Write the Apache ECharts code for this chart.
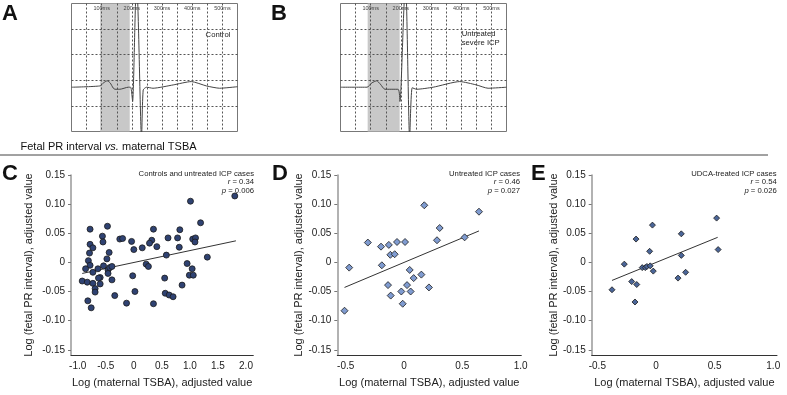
<!DOCTYPE html>
<html>
<head>
<meta charset="utf-8">
<script src="https://cdn.jsdelivr.net/npm/echarts@6/dist/echarts.min.js"></script>
<style>
  html, body { margin: 0; padding: 0; background: #fff; }
  #chart { width: 787px; height: 395px; }
</style>
</head>
<body>
<div id="chart"></div>
<script>
// ECG traces (time in ms, amplitude in grid squares from the bottom edge)
var ecgTickLabels = [100, 200, 300, 400, 500];
var controlTime = [0, 94, 106, 118, 128, 138, 144, 160, 188, 196, 202.5, 214, 217.5, 232, 237.5, 248.5, 270, 337, 397, 447, 491, 550];
var controlValue = [1.73, 1.78, 1.9, 1.98, 1.9, 1.7, 1.65, 1.65, 1.73, 1.73, 1.17, 5.4, 5.4, -0.3, 1.62, 1.73, 1.69, 1.82, 1.95, 1.78, 1.69, 1.75];
var icpTime = [0, 88, 104, 120, 132, 147, 191, 197, 213.5, 217, 229, 237.5, 252, 307, 395, 450, 489, 550];
var icpValue = [1.73, 1.73, 1.9, 1.98, 1.85, 1.65, 1.65, 1.17, 5.4, 5.4, -0.3, 1.71, 1.65, 1.73, 1.95, 1.82, 1.69, 1.73];
var controlShade = [95, 193];
var icpShade = [90, 196];

// Scatter panels
var xTicksWide = [-1.0, -0.5, 0, 0.5, 1.0, 1.5, 2.0];
var xTicksNarrow = [-0.5, 0, 0.5, 1.0];
var yTicks = [-0.15, -0.10, -0.05, 0, 0.05, 0.10, 0.15];

var allX = [1.80, 1.01, 1.19, -0.78, -0.47, -0.56, -0.55, -0.78, -0.73, -0.25, -0.20, -0.04, 0.0, 0.15, 0.35, 0.32, 0.28, 0.41, 0.58, 0.61, 0.82, 0.81, 0.78, 1.05, 1.10, 1.09, 1.31, -0.79, -0.44, -0.48, -0.81, -0.78, -0.86, -0.92, -0.83, -0.82, -0.76, -0.73, -0.73, -0.69, -0.69, -0.64, -0.60, -0.63, -0.60, -0.54, -0.46, -0.46, -0.43, -0.39, -0.39, -0.34, -0.13, -0.02, 0.02, 0.22, 0.26, 0.35, 0.55, 0.56, 0.63, 0.70, 0.86, 0.95, 1.04, 0.99, 1.06];
var allY = [0.114, 0.105, 0.068, 0.057, 0.062, 0.045, 0.035, 0.031, 0.025, 0.040, 0.041, 0.036, 0.022, 0.025, 0.057, 0.038, 0.033, 0.027, 0.0125, 0.042, 0.056, 0.026, 0.042, 0.040, 0.042, 0.035, 0.009, 0.016, 0.017, 0.006, 0.003, -0.005, -0.011, -0.032, -0.034, -0.066, -0.078, -0.017, -0.036, -0.045, -0.051, -0.011, -0.026, -0.027, -0.037, -0.006, -0.013, -0.019, -0.009, -0.007, -0.030, -0.057, -0.070, -0.023, -0.050, -0.003, -0.007, -0.071, -0.027, -0.053, -0.056, -0.059, -0.039, -0.002, -0.011, -0.022, -0.022];
var allFitX = [-0.92, 1.82];
var allFitY = [-0.019, 0.037];

var untreatedX = [0.174, 0.643, 0.306, 0.283, 0.52, -0.31, -0.197, -0.13, -0.06, 0.009, -0.117, -0.08, -0.47, -0.51, -0.19, 0.049, 0.083, 0.149, 0.214, -0.137, -0.114, -0.023, 0.026, 0.057, -0.011];
var untreatedY = [0.098, 0.087, 0.059, 0.038, 0.043, 0.034, 0.027, 0.030, 0.035, 0.035, 0.013, 0.014, -0.009, -0.083, -0.005, -0.013, -0.027, -0.021, -0.043, -0.039, -0.057, -0.050, -0.039, -0.050, -0.071];
var untreatedFitX = [-0.51, 0.643];
var untreatedFitY = [-0.043, 0.054];

var udcaX = [0.517, -0.03, -0.17, 0.216, -0.054, 0.53, 0.216, -0.27, -0.117, -0.091, -0.077, -0.049, -0.023, -0.207, -0.164, -0.179, -0.375, 0.188, 0.253];
var udcaY = [0.076, 0.064, 0.040, 0.049, 0.019, 0.022, 0.012, -0.003, -0.009, -0.009, -0.007, -0.006, -0.015, -0.033, -0.038, -0.068, -0.047, -0.027, -0.017];
var udcaFitX = [-0.375, 0.526];
var udcaFitY = [-0.031, 0.043];

function zip(xs, ys) {
  return xs.map(function (x, i) { return [x, ys[i]]; });
}

var FONT = '"Liberation Sans", Arial, Helvetica, sans-serif';
var chart = echarts.init(document.getElementById('chart'));

function ecgX(idx) {
  return {
    gridIndex: idx, type: 'value', min: 0, max: 550, interval: 50, position: 'top', z: 3,
    axisLine: { show: false }, axisTick: { show: false },
    splitLine: { show: true, showMinLine: false, showMaxLine: false, lineStyle: { type: [2, 2], color: '#555', width: 1 } },
    axisLabel: { inside: true, margin: 2, customValues: ecgTickLabels, formatter: '{value}ms', fontSize: 5.5, color: '#444', fontFamily: FONT }
  };
}
function ecgY(idx) {
  return {
    gridIndex: idx, type: 'value', min: 0, max: 5, interval: 1, z: 3,
    axisLine: { show: false }, axisTick: { show: false }, axisLabel: { show: false },
    splitLine: { show: true, showMinLine: false, showMaxLine: false, lineStyle: { type: [2, 2], color: '#555', width: 1 } }
  };
}
function scatterX(idx, min, max, ticks) {
  return {
    gridIndex: idx, type: 'value', min: min, max: max,
    name: 'Log (maternal TSBA), adjusted value', nameLocation: 'middle', nameGap: 22,
    nameTextStyle: { fontSize: 11, color: '#222', fontFamily: FONT },
    axisLine: { show: true, onZero: false, lineStyle: { color: '#333', width: 1 } },
    axisTick: { show: false },
    splitLine: { show: false },
    axisLabel: {
      customValues: ticks, margin: 6, fontSize: 10, color: '#222', fontFamily: FONT,
      formatter: function (v) { return v === 0 ? '0' : v.toFixed(1); }
    }
  };
}
function scatterY(idx, gap) {
  return {
    gridIndex: idx, type: 'value', min: -0.159, max: 0.15,
    name: 'Log (fetal PR interval), adjusted value', nameLocation: 'middle', nameGap: gap,
    nameTextStyle: { fontSize: 11, color: '#222', fontFamily: FONT },
    axisLine: { show: true, onZero: false, lineStyle: { color: '#999', width: 1.5 } },
    axisTick: { show: true, length: 3, customValues: yTicks, lineStyle: { color: '#777' } },
    splitLine: { show: false },
    axisLabel: {
      customValues: yTicks, margin: 6, fontSize: 10, color: '#222', fontFamily: FONT,
      formatter: function (v) { return Math.abs(v) < 1e-9 ? '0' : v.toFixed(2); }
    }
  };
}
function ecgSeries(idx, t, v, shade) {
  return {
    type: 'line', xAxisIndex: idx, yAxisIndex: idx, data: zip(t, v),
    showSymbol: false, smooth: 0.2, lineStyle: { color: '#444', width: 1 }, silent: true,
    markArea: { silent: true, itemStyle: { color: '#c8c8c8' }, data: [[{ xAxis: shade[0] }, { xAxis: shade[1] }]] }
  };
}
function dotSeries(idx, xs, ys, symbol, size, fill) {
  return {
    type: 'scatter', xAxisIndex: idx, yAxisIndex: idx, data: zip(xs, ys),
    symbol: symbol, symbolSize: size, z: 4,
    itemStyle: { color: fill, borderColor: '#1a1a1a', borderWidth: 0.8, opacity: 1 }
  };
}
function fitSeries(idx, xs, ys) {
  return {
    type: 'line', xAxisIndex: idx, yAxisIndex: idx, data: zip(xs, ys),
    showSymbol: false, lineStyle: { color: '#333', width: 1 }, z: 3, silent: true
  };
}
function label(text, x, y, size, bold) {
  return {
    type: 'text', x: x, y: y,
    style: { text: text, fill: '#111', font: (bold ? 'bold ' : '') + size + 'px ' + FONT, verticalAlign: 'middle' }
  };
}
function note(x, y, head, r, p) {
  var base = { fontSize: 7.7, fontFamily: FONT, fill: '#222' };
  var ital = { fontSize: 7.7, fontFamily: FONT, fill: '#222', fontStyle: 'italic' };
  return {
    type: 'text', x: x, y: y,
    style: {
      text: '{n|' + head + '}\n{i|r}{n| = ' + r + '}\n{i|p}{n| = ' + p + '}',
      align: 'right', verticalAlign: 'top', lineHeight: 8.8,
      fontSize: 7.7, fontFamily: FONT, fill: '#222',
      rich: { n: Object.assign({ lineHeight: 8.8 }, base), i: Object.assign({ lineHeight: 8.8 }, ital) }
    }
  };
}

chart.setOption({
  animation: false,
  backgroundColor: '#fff',
  grid: [
    { left: 71.5, top: 3.5, width: 166, height: 128, show: true, borderColor: '#777', borderWidth: 1, backgroundColor: '#fff' },
    { left: 340.5, top: 3.5, width: 166, height: 128, show: true, borderColor: '#777', borderWidth: 1, backgroundColor: '#fff' },
    { left: 71, top: 175, width: 182.3, height: 180 },
    { left: 337.3, top: 175, width: 184, height: 180 },
    { left: 591.7, top: 175, width: 185.3, height: 180 }
  ],
  xAxis: [
    ecgX(0), ecgX(1),
    scatterX(2, -1.12, 2.13, xTicksWide),
    scatterX(3, -0.572, 1.006, xTicksNarrow),
    scatterX(4, -0.548, 1.032, xTicksNarrow)
  ],
  yAxis: [ecgY(0), ecgY(1), scatterY(2, 37), scatterY(3, 33), scatterY(4, 31)],
  series: [
    ecgSeries(0, controlTime, controlValue, controlShade),
    ecgSeries(1, icpTime, icpValue, icpShade),
    fitSeries(2, allFitX, allFitY),
    dotSeries(2, allX, allY, 'circle', 6, '#2f4272'),
    fitSeries(3, untreatedFitX, untreatedFitY),
    dotSeries(3, untreatedX, untreatedY, 'diamond', 7, '#7f9bd0'),
    fitSeries(4, udcaFitX, udcaFitY),
    dotSeries(4, udcaX, udcaY, 'diamond', 6, '#4b6699')
  ],
  graphic: [
    label('A', 2, 14, 22, true),
    label('B', 271, 14, 22, true),
    label('C', 2, 174, 22, true),
    label('D', 272, 174, 22, true),
    label('E', 531, 174, 22, true),
    { type: 'text', x: 218, y: 34.5, style: { text: 'Control', fill: '#222', font: '7.7px ' + FONT, align: 'center', verticalAlign: 'middle' } },
    { type: 'text', x: 461.7, y: 30, style: { text: 'Untreated\nsevere ICP', fill: '#222', font: '7.7px ' + FONT, lineHeight: 8.5, verticalAlign: 'top' } },
    {
      type: 'text', x: 20.5, y: 147,
      style: {
        text: '{n|Fetal PR interval }{i|vs.}{n| maternal TSBA}', verticalAlign: 'middle',
        fontSize: 11, fontFamily: FONT, fill: '#111',
        rich: {
          n: { fontSize: 11, fontFamily: FONT, fill: '#111' },
          i: { fontSize: 11, fontFamily: FONT, fill: '#111', fontStyle: 'italic' }
        }
      }
    },
    { type: 'line', shape: { x1: 0, y1: 155, x2: 768, y2: 155 }, style: { stroke: '#444', lineWidth: 1 } },
    note(254, 169, 'Controls and untreated ICP cases', '0.34', '0.006'),
    note(520, 169, 'Untreated ICP cases', '0.46', '0.027'),
    note(776.7, 169, 'UDCA-treated ICP cases', '0.54', '0.026')
  ]
});
</script>
</body>
</html>
